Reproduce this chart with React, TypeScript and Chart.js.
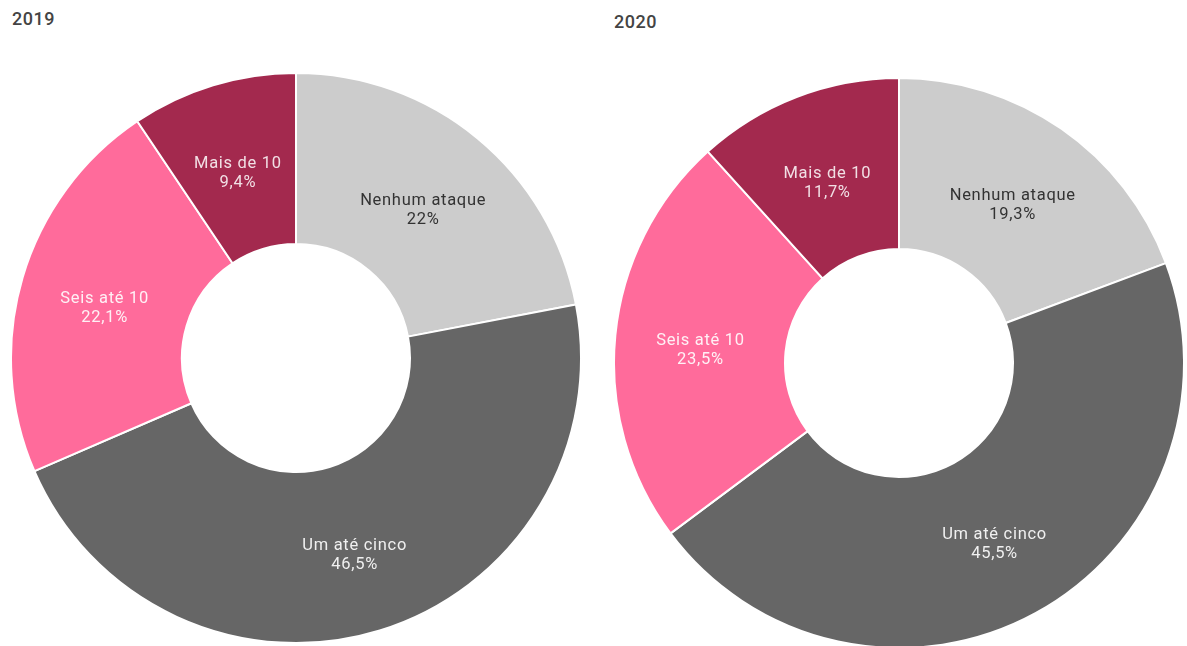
import React, { useEffect, useRef } from "react";
import { Chart, registerables } from "chart.js";

Chart.register(...registerables);

const categories = ["Nenhum ataque", "Um até cinco", "Seis até 10", "Mais de 10"];
const values2019 = [22, 46.5, 22.1, 9.4];
const values2020 = [19.3, 45.5, 23.5, 11.7];
const valueLabels2019 = ["22%", "46,5%", "22,1%", "9,4%"];
const valueLabels2020 = ["19,3%", "45,5%", "23,5%", "11,7%"];
const colors = ["#cccccc", "#666666", "#ff6b9b", "#a3294e"];
const labelColors = ["#333333", "rgba(255,255,255,0.9)", "rgba(255,255,255,0.9)", "rgba(255,255,255,0.85)"];

const FONT = "Roboto, 'DejaVu Sans', sans-serif";

const sliceLabels = {
  id: "sliceLabels",
  afterDatasetsDraw(chart: any) {
    const ctx = chart.ctx;
    const meta = chart.getDatasetMeta(0);
    const texts: string[] = chart.options.plugins.sliceLabels.values;
    ctx.save();
    ctx.font = `400 16.5px ${FONT}`;
    (ctx as any).letterSpacing = "0.7px";
    ctx.textAlign = "center";
    ctx.textBaseline = "middle";
    meta.data.forEach((arc: any, i: number) => {
      const p = arc.getProps(["x", "y", "startAngle", "endAngle", "innerRadius", "outerRadius"], true);
      const a = (p.startAngle + p.endAngle) / 2;
      const r = (p.innerRadius + p.outerRadius) / 2;
      const x = p.x + Math.cos(a) * r;
      const y = p.y + Math.sin(a) * r + 7;
      ctx.fillStyle = labelColors[i];
      ctx.fillText(categories[i], x, y - 10);
      ctx.fillText(texts[i], x, y + 9);
    });
    ctx.restore();
  },
};

function Donut({ values, texts, left, top, size }: { values: number[]; texts: string[]; left: number; top: number; size: number }) {
  const ref = useRef<HTMLCanvasElement>(null);
  useEffect(() => {
    const chart = new Chart(ref.current as HTMLCanvasElement, {
      type: "doughnut",
      data: {
        labels: categories,
        datasets: [
          {
            data: values,
            backgroundColor: colors,
            borderColor: "#ffffff",
            borderWidth: 2,
          },
        ],
      },
      options: {
        responsive: false,
        animation: false,
        cutout: "40%",
        layout: { padding: 0 },
        plugins: {
          legend: { display: false },
          tooltip: { enabled: false },
          sliceLabels: { values: texts },
        } as any,
      },
      plugins: [sliceLabels],
    });
    return () => chart.destroy();
  }, []);
  return (
    <canvas
      ref={ref}
      width={size}
      height={size}
      style={{ position: "absolute", left, top, width: size, height: size }}
    />
  );
}

export default function App() {
  return (
    <div
      style={{
        position: "fixed",
        left: 0,
        top: 0,
        width: 1187,
        height: 646,
        overflow: "hidden",
        background: "#ffffff",
      }}
    >
      <div style={{ position: "absolute", left: 12, top: 8, font: `500 18px ${FONT}`, color: "#444", letterSpacing: "0.5px" }}>2019</div>
      <div style={{ position: "absolute", left: 614, top: 11, font: `500 18px ${FONT}`, color: "#444", letterSpacing: "0.5px" }}>2020</div>
      <Donut values={values2019} texts={valueLabels2019} left={10} top={72} size={572} />
      <Donut values={values2020} texts={valueLabels2020} left={613} top={77} size={572} />
    </div>
  );
}
